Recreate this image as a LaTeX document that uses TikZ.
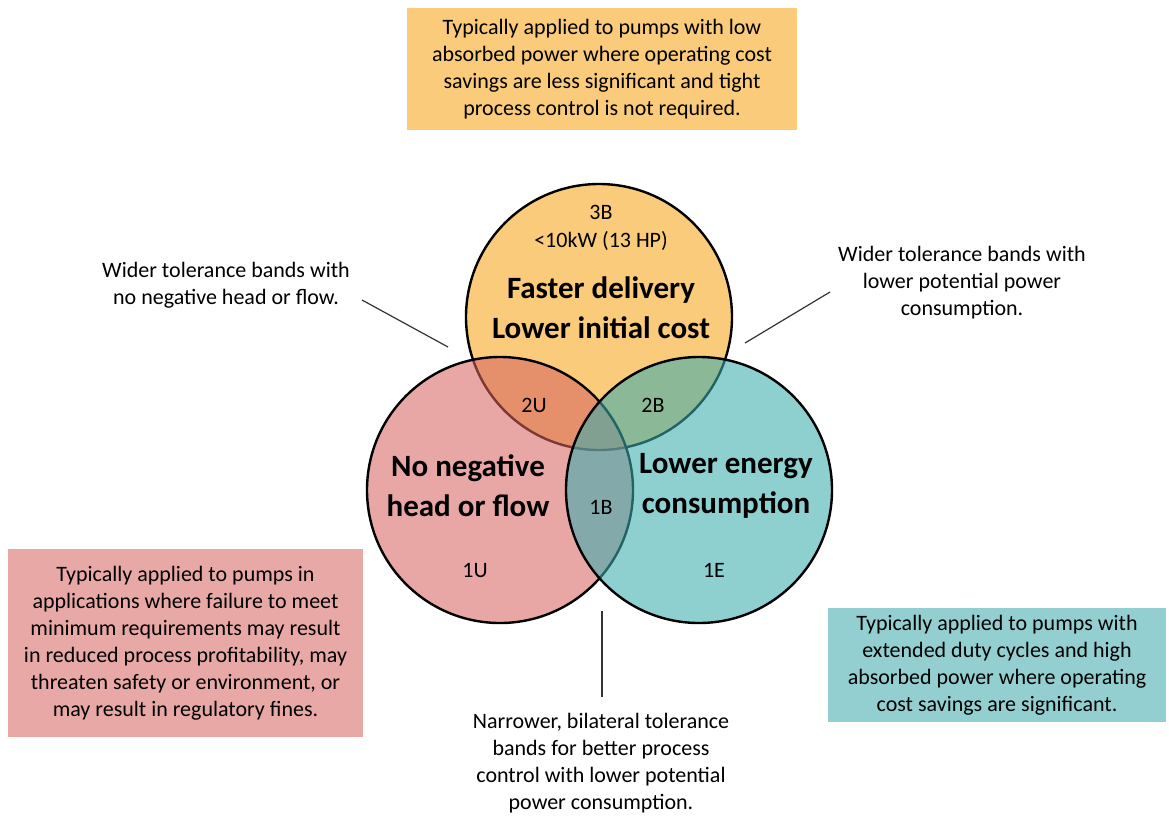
\documentclass[tikz,border=0pt]{standalone}
\usepackage{fontspec}
\setmainfont{Carlito}
\usetikzlibrary{positioning}
\definecolor{sunny}{HTML}{F9CB7A}
\definecolor{rosy}{RGB}{215,100,97}
\definecolor{aqua}{RGB}{60,172,174}
\definecolor{rosybox}{HTML}{E8A9A6}
\definecolor{aquabox}{HTML}{93CFD0}

\begin{document}
\begin{tikzpicture}[x=1pt, y=-1pt,
  venn/.style = {draw, circle, line width=2.4pt, minimum size=266pt, inner sep=0pt},
  txt/.style = {align=center, inner sep=0pt, font=\fontsize{22}{27}\selectfont},
  big/.style = {align=center, inner sep=0pt, font=\bfseries\fontsize{31}{40}\selectfont},
  note/.style = {txt, minimum width=#1},
  lead/.style = {line width=1.2pt, draw=black!80}]
  \useasboundingbox (0,0) rectangle (1169,815);

  % circles
  \node[venn, fill=sunny] (fast) at (599,317) {};
  \node[venn, fill=rosy, fill opacity=0.57] (safe) at (500,490) {};
  \node[venn, fill=aqua, fill opacity=0.58] (eff) at (699,490) {};

  % circle labels
  \node[txt] (c3b) at (601,212) {3B};
  \node[txt] (kw) at (601,241) {<10kW (13 HP)};
  \node[big] (fastlbl) at (601,308) {Faster delivery\\Lower initial cost};
  \node[big] (safelbl) at (468,486) {No negative\\head or flow};
  \node[big] (efflbl) at (726,486) {Lower energy\\consumption};
  \node[txt] (c2u) at (534,405) {2U};
  \node[txt] (c2b) at (653,405) {2B};
  \node[txt] (c1b) at (601,507) {1B};
  \node[txt] (c1u) at (475,570) {1U};
  \node[txt] (c1e) at (714,570) {1E};

  % coloured boxes
  \node[note, fill=sunny, minimum width=390pt, minimum height=122pt] (topbox) at (602,69)
    {Typically applied to pumps with low\\absorbed power where operating cost\\savings are less significant and tight\\process control is not required.};
  \node[note, fill=rosybox, minimum width=355pt, minimum height=188pt] (leftbox) at (185.5,643)
    {Typically applied to pumps in\\applications where failure to meet\\minimum requirements may result\\in reduced process profitability, may\\threaten safety or environment, or\\may result in regulatory fines.};
  \node[note, fill=aquabox, minimum width=338pt, minimum height=114pt] (rightbox) at (997,665)
    {Typically applied to pumps with\\extended duty cycles and high\\absorbed power where operating\\cost savings are significant.};

  % side notes
  \node[txt] (lnote) at (226,285) {Wider tolerance bands with\\no negative head or flow.};
  \node[txt] (rnote) at (962,283) {Wider tolerance bands with\\lower potential power\\consumption.};
  \node[txt] (bnote) at (601,763) {Narrower, bilateral tolerance\\bands for better process\\control with lower potential\\power consumption.};

  % leader lines
  \coordinate (l1) at (362,300);
  \coordinate (l2) at (448,347);
  \coordinate (r1) at (830,292);
  \coordinate (r2) at (745,343);
  \coordinate (b1) at (602,611);
  \coordinate (b2) at (602,697);
  \draw[lead] (l1) -- (l2);
  \draw[lead] (r1) -- (r2);
  \draw[lead] (b1) -- (b2);
\end{tikzpicture}
\end{document}
